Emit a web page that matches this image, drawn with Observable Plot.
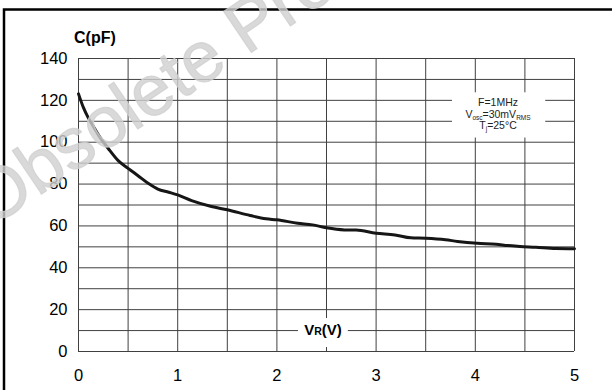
<!DOCTYPE html>
<html><head><meta charset="utf-8">
<script src="https://cdn.jsdelivr.net/npm/d3@7"></script>
<script src="https://cdn.jsdelivr.net/npm/@observablehq/plot@0.6"></script>
<style>
body{margin:0;background:#fff;}
svg{font-family:"Liberation Sans",Arial,Helvetica,sans-serif;}
</style>
</head><body><div id="chart"></div>
<script>
// Reverse voltage (V) and capacitance (pF)
const voltage =     [0, 0.05, 0.1, 0.15, 0.2, 0.3, 0.4, 0.5, 0.6, 0.71, 0.8, 0.91, 1.0, 1.14, 1.34, 1.5, 1.73, 1.89, 2.0, 2.21, 2.36, 2.5, 2.68, 2.8, 3.0, 3.19, 3.35, 3.5, 3.7, 3.82, 4.02, 4.21, 4.33, 4.45, 4.61, 4.81, 5.0];
const capacitance = [123.1, 116.5, 111.5, 107.5, 103.5, 97, 91.2, 87.5, 84, 80.1, 77.6, 76.1, 74.8, 72.1, 69.3, 67.7, 65, 63.4, 62.9, 61.3, 60.5, 59.1, 58.1, 58.0, 56.5, 55.7, 54.3, 54.1, 53.4, 52.6, 51.7, 51.3, 50.6, 50.2, 49.8, 49.2, 49.1];
const xTicks = [0, 1, 2, 3, 4, 5];
const yTicks = [0, 20, 40, 60, 80, 100, 120, 140];
const xGrid = [0, 0.5, 1, 1.5, 2, 2.5, 3, 3.5, 4, 4.5, 5];
const yGrid = [0, 10, 20, 30, 40, 50, 60, 70, 80, 90, 100, 110, 120, 130, 140];
const yLabel = "C(pF)";
const xLabel = ["V", "R", "(V)"];
const conditions = [["F=1MHz"], ["V", "osc", "=30mV", "RMS"], ["T", "j", "=25°C"]];
const watermark = "Obsolete Product(s)";
// annotation boxes in data units: [x0, x1, y0, y1]
const condBox = [3.77, 4.71, 102, 123.6];
const condAnchor = [4.234, 116.9];
const xLabelBox = [2.218, 2.72, 1.9, 15.75];
const xLabelAnchor = [2.47, 10];

const points = voltage.map((v, i) => ({v, c: capacitance[i]}));

const chart = Plot.plot({
  width: 612, height: 390,
  marginLeft: 78, marginRight: 38, marginTop: 58, marginBottom: 39,
  x: {domain: [0, 5], ticks: xTicks, tickSize: 0, tickPadding: 18, label: null, tickFormat: d => String(d)},
  y: {domain: [0, 140], ticks: yTicks, tickSize: 0, tickPadding: 11, label: null},
  style: {fontSize: "16.5px", fontFamily: "'Liberation Sans', Arial, sans-serif", color: "#000", background: "white"},
  marks: [
    Plot.ruleY(yGrid, {stroke: "#404040", strokeWidth: 1}),
    Plot.ruleX(xGrid, {stroke: "#404040", strokeWidth: 1}),
    Plot.rect([condBox], {x1: d => d[0], x2: d => d[1], y1: d => d[2], y2: d => d[3], fill: "white"}),
    Plot.rect([xLabelBox], {x1: d => d[0], x2: d => d[1], y1: d => d[2], y2: d => d[3], fill: "white"}),
    Plot.line(points, {x: "v", y: "c", stroke: "#161616", strokeWidth: 3, curve: "monotone-x"})
  ]
});
document.getElementById("chart").append(chart);

const svg = d3.select(chart);
const sx = chart.scale("x"), sy = chart.scale("y");

// outer frame
svg.append("rect").attr("x", 4).attr("y", 9.5).attr("width", 700).attr("height", 500)
  .attr("fill", "none").attr("stroke", "#000").attr("stroke-width", 2.5);

// y label
svg.append("text").attr("x", 74).attr("y", 42.5).attr("text-anchor", "start")
  .attr("font-size", 16).attr("font-weight", "bold").text(yLabel);

// x label
const xl = svg.append("text").attr("x", sx.apply(xLabelAnchor[0])).attr("y", sy.apply(xLabelAnchor[1]))
  .attr("dy", "0.36em").attr("text-anchor", "middle").attr("font-weight", "bold").attr("font-size", 15);
xl.append("tspan").text(xLabel[0]);
xl.append("tspan").attr("font-size", 10.5).text(xLabel[1]);
xl.append("tspan").text(xLabel[2]);

// conditions
const cx = sx.apply(condAnchor[0]);
const cy0 = sy.apply(condAnchor[1]);
conditions.forEach((parts, i) => {
  const t = svg.append("text").attr("x", cx).attr("y", cy0 + i * 11.5)
    .attr("text-anchor", "middle").attr("font-size", 10.5).attr("fill", "#222");
  parts.forEach((p, j) => {
    const ts = t.append("tspan").text(p);
    if (j % 2 === 1) ts.attr("font-size", 6.5).attr("dy", "2");
    else if (j > 0) ts.attr("dy", "-2");
  });
});

// watermark
svg.append("text").attr("transform", "translate(-9,228) rotate(-34)")
  .attr("text-anchor", "start")
  .attr("font-size", 72).attr("fill", "#cfcfcf").attr("fill-opacity", 0.8)
  .attr("stroke", "#cfcfcf").attr("stroke-opacity", 0.8).attr("stroke-width", 1.2)
  .text(watermark);
</script>
</body></html>
